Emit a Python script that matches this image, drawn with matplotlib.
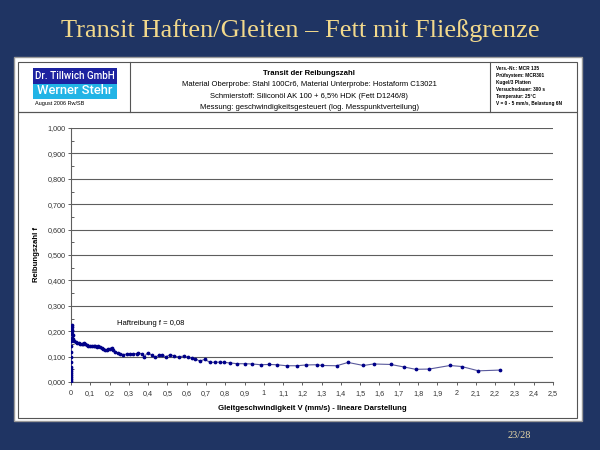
import matplotlib
matplotlib.use("Agg")
import matplotlib.pyplot as plt
from matplotlib.patches import Rectangle
from matplotlib.ticker import FuncFormatter, MultipleLocator

# ---------------- data ----------------
speed = [0.0, 0.0002, 0.0004, 0.0006, 0.0008, 0.001, 0.0012, 0.0014, 0.0016, 0.0018,
         0.002, 0.0022, 0.0024, 0.0026, 0.0028, 0.003, 0.0033, 0.0036,
         0.006, 0.008, 0.012, 0.018, 0.025, 0.032, 0.040, 0.047, 0.055, 0.062,
         0.068, 0.075, 0.082, 0.090, 0.100, 0.108, 0.117, 0.125, 0.133, 0.142,
         0.151, 0.160, 0.168, 0.177, 0.185, 0.194, 0.203, 0.211, 0.220, 0.229,
         0.242, 0.255, 0.272, 0.290, 0.307, 0.323, 0.340, 0.350, 0.367, 0.381,
         0.397, 0.420, 0.437, 0.454, 0.471, 0.492, 0.515, 0.536, 0.558, 0.584,
         0.607, 0.628, 0.645, 0.667, 0.693, 0.723, 0.749, 0.771, 0.796, 0.827,
         0.862, 0.900, 0.940, 0.983, 1.026, 1.066, 1.118, 1.173, 1.217, 1.274,
         1.303, 1.378, 1.437, 1.517, 1.569, 1.659, 1.728, 1.787, 1.858, 1.966,
         2.026, 2.113, 2.227]
friction = [0.005, 0.012, 0.020, 0.028, 0.036, 0.044, 0.052, 0.060, 0.080, 0.100,
            0.120, 0.140, 0.160, 0.175, 0.190, 0.205, 0.215, 0.224,
            0.200, 0.185, 0.171, 0.163, 0.158, 0.155, 0.152, 0.150, 0.148, 0.150,
            0.153, 0.148, 0.145, 0.143, 0.141, 0.140, 0.142, 0.141, 0.139, 0.140,
            0.138, 0.133, 0.129, 0.127, 0.125, 0.128, 0.131, 0.135, 0.127, 0.119,
            0.115, 0.112, 0.108, 0.110, 0.111, 0.111, 0.112, 0.115, 0.110, 0.100,
            0.115, 0.106, 0.097, 0.105, 0.107, 0.099, 0.108, 0.102, 0.099, 0.102,
            0.097, 0.093, 0.092, 0.082, 0.089, 0.077, 0.078, 0.078, 0.077, 0.075,
            0.072, 0.072, 0.071, 0.068, 0.069, 0.068, 0.064, 0.064, 0.067, 0.068,
            0.065, 0.064, 0.077, 0.065, 0.071, 0.069, 0.059, 0.050, 0.051, 0.065,
            0.061, 0.044, 0.047]

slide_title = "Transit Haften/Gleiten – Fett mit Fließgrenze"
chart_title = "Transit der Reibungszahl"
header_lines = ["Material Oberprobe: Stahl 100Cr6, Material Unterprobe: Hostaform C13021",
                "Schmierstoff: Siliconöl AK 100 + 6,5% HDK (Fett D1246/8)",
                "Messung: geschwindigkeitsgesteuert (log. Messpunktverteilung)"]
info_lines = ["Vers.-Nr.: MCR 135", "Prüfsystem: MCR301", "Kugel/3 Platten",
              "Versuchsdauer: 300 s", "Temperatur: 25°C", "V = 0 - 5 mm/s, Belastung 6N"]
annotation = "Haftreibung f = 0,08"
xlabel = "Gleitgeschwindigkeit V (mm/s) - lineare Darstellung"
ylabel = "Reibungszahl f"
page = "23/28"

# ---------------- figure ----------------
W, H = 600, 450
fig = plt.figure(figsize=(6, 4.5), dpi=100)
fig.patch.set_facecolor("#1f3463")

def fx(px):
    return px / W

def fy(py):
    return 1 - py / H

def rect(x0, y0, x1, y1, fc="none", ec="none", lw=0.8, z=1):
    r = Rectangle((fx(x0), fy(y1)), fx(x1) - fx(x0), fy(y0) - fy(y1),
                  transform=fig.transFigure, facecolor=fc, edgecolor=ec, lw=lw, zorder=z)
    fig.add_artist(r)

# slide title
fig.text(0.5, fy(31), slide_title, ha="center", va="center", color="#f2d98c",
         fontsize=19, family=["Liberation Serif", "DejaVu Serif"])
fig.text(fx(519), fy(435), page, ha="center", va="center", color="#e8d8a8",
         fontsize=7.5, family=["Liberation Serif", "DejaVu Serif"])

# white panel
rect(14, 57, 582, 421, fc="white", ec="#9a9a9a", lw=1.0, z=0)
# header box and chart box
rect(18, 62, 577, 112, ec="#555555", lw=0.8, z=2)
rect(18, 112, 577, 418, ec="#555555", lw=0.8, z=2)
fig.add_artist(plt.Line2D([fx(130), fx(130)], [fy(62), fy(112)], transform=fig.transFigure,
                          color="#555555", lw=0.8))
fig.add_artist(plt.Line2D([fx(490), fx(490)], [fy(62), fy(112)], transform=fig.transFigure,
                          color="#555555", lw=0.8))

# logo
rect(33, 68, 117, 83.5, fc="#1c22a0", z=3)
rect(33, 83.5, 117, 98.5, fc="#22b4e6", z=3)
fig.text(fx(75), fy(75.8), "Dr. Tillwich GmbH", ha="center", va="center", color="white",
         fontsize=7.1, fontweight="medium", family="Roboto", zorder=4)
fig.text(fx(75), fy(91), "Werner Stehr", ha="center", va="center", color="white",
         fontsize=9.4, fontweight="medium", family="Roboto", zorder=4)
fig.text(fx(35), fy(103.5), "August 2006 Rw/SB", ha="left", va="center", color="black",
         fontsize=4, family="Liberation Sans")

# header text
fig.text(fx(309), fy(73.5), chart_title, ha="center", va="center", fontsize=5.6,
         fontweight="bold", family="Liberation Sans")
for i, line in enumerate(header_lines):
    fig.text(fx(309), fy(85 + 11.3 * i), line, ha="center", va="center", fontsize=5.5,
             family="Liberation Sans")
for i, line in enumerate(info_lines):
    fig.text(fx(496), fy(69 + 6.9 * i), line, ha="left", va="center", fontsize=3.4,
             fontweight="bold", family="Liberation Sans")

# ---------------- chart ----------------
ax = fig.add_axes([fx(71), fy(382), fx(553) - fx(71), fy(128) - fy(382)])
ax.set_facecolor("white")
ax.set_xlim(0, 2.5)
ax.set_ylim(0, 1.0)
ax.plot(speed, friction, color="#5a5a9c", lw=0.8, zorder=3)
ax.plot(speed, friction, ls="none", marker="o", ms=1.7, color="#000088", zorder=4)

ax.xaxis.set_major_locator(MultipleLocator(0.1))
ax.yaxis.set_major_locator(MultipleLocator(0.1))
ax.yaxis.set_minor_locator(MultipleLocator(0.05))
ax.xaxis.set_major_formatter(FuncFormatter(lambda v, p: ("%g" % round(v, 2)).replace(".", ",")))
ax.yaxis.set_major_formatter(FuncFormatter(lambda v, p: ("%.3f" % v).replace(".", ",")))
ax.grid(axis="y", color="#5e5e5e", lw=0.8)
ax.set_axisbelow(True)
for s in ["top", "right"]:
    ax.spines[s].set_visible(False)
for s in ["left", "bottom"]:
    ax.spines[s].set_color("#5e5e5e")
    ax.spines[s].set_linewidth(0.8)
ax.tick_params(axis="y", which="major", direction="inout", length=4, width=0.7,
               color="#5e5e5e", labelsize=5.2, pad=2)
ax.tick_params(axis="y", which="minor", direction="in", length=2, width=0.7, color="#5e5e5e")
ax.tick_params(axis="x", which="major", direction="out", length=2.5, width=0.7,
               color="#5e5e5e", labelsize=5.2, pad=3)
for t in ax.get_xticklabels() + ax.get_yticklabels():
    t.set_family("Liberation Sans")
    t.set_color("#333333")

ax.set_xlabel(xlabel, fontsize=5.6, fontweight="bold", family="Liberation Sans", labelpad=6)
ax.set_ylabel(ylabel, fontsize=5.6, fontweight="bold", family="Liberation Sans", labelpad=5)
ax.text(0.237, 0.232, annotation, fontsize=5.5, family="Liberation Sans", va="center",
        ha="left")

fig.savefig("out.png", dpi=100, facecolor=fig.get_facecolor())
